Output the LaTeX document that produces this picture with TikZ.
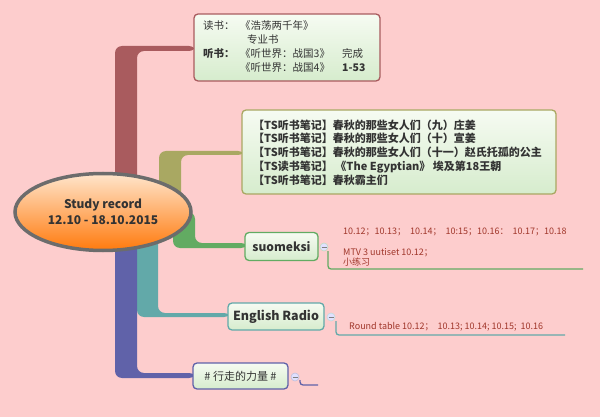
\documentclass[tikz,border=0pt]{standalone}
\usepackage{fontspec}
\setmainfont{Noto Sans CJK SC}
\usetikzlibrary{shapes.geometric}
\definecolor{bg}{HTML}{FDCDCD}
\definecolor{cR}{HTML}{A95B5E}
\definecolor{cO}{HTML}{A9A862}
\definecolor{cG}{HTML}{62AB62}
\definecolor{cT}{HTML}{62A9A9}
\definecolor{cB}{HTML}{6062A9}
\definecolor{lab}{HTML}{A0362A}
\definecolor{txt}{HTML}{333333}
\definecolor{boxtop}{HTML}{F6FBF2}
\definecolor{boxbot}{HTML}{D6ECCD}
\tikzset{
  branch/.style={fill=#1, rounded corners=7pt},
  topicbox/.style={draw=#1, line width=1.3pt, rounded corners=4pt, top color=boxtop, bottom color=boxbot, inner sep=0pt},
  leafline/.style={draw=#1, line width=1.3pt, rounded corners=3pt},
  collapse/.style={circle, draw=#1!40!white, fill=blue!12!white, line width=0.6pt, minimum size=8pt, inner sep=0pt},
  btxt/.style={anchor=base west, inner sep=0pt, text=txt, font=\fontsize{10.5}{12}\selectfont},
  ltxt/.style={anchor=base west, inner sep=0pt, text=lab, font=\fontsize{9}{10}\selectfont},
  ttl/.style={inner sep=0pt, text=txt, font=\bfseries\fontsize{12}{14}\selectfont}
}
\begin{document}
\begin{tikzpicture}[x=1pt,y=-1pt]
\useasboundingbox (0,0) rectangle (600,417);
\fill[bg] (0,0) rectangle (600,417);
% branches
\fill[branch=cR] (115,210) -- (115,46) -- (196,46) -- (196,51) -- (137,51) -- (137,210) -- cycle;
\fill[branch=cO] (159,210) -- (159,151) -- (245,151) -- (245,155) -- (181,155) -- (181,210) -- cycle;
\fill[branch=cG] (173,212) -- (173,248) -- (248,248) -- (248,243) -- (195,243) -- (195,212) -- cycle;
\fill[branch=cT] (137,214) -- (137,317) -- (231,317) -- (231,313) -- (158,313) -- (158,214) -- cycle;
\fill[branch=cB] (115,214) -- (115,378) -- (196,378) -- (196,373) -- (137,373) -- (137,214) -- cycle;
% central
\node[ellipse, minimum width=176pt, minimum height=77pt, draw=gray!85!black, line width=3.5pt,
  top color=orange!20!white, bottom color=orange!90!red!95!white, inner sep=0pt] (center) at (103,212) {};
\node[ttl] (t1) at (103,205) {Study record};
\node[ttl] (t2) at (103,220) {12.10 - 18.10.2015};
% box 1
\path[topicbox=cR] (194,14) rectangle (380,81);
\node[btxt] (a1) at (203,30) {读书：};
\node[btxt] (a2) at (240,30) {《浩荡两千年》};
\node[btxt] (a3) at (247,44) {专业书};
\node[btxt, font=\bfseries\fontsize{10.5}{12}\selectfont] (a4) at (203,58) {听书：};
\node[btxt] (a5) at (240,58) {《听世界：战国3》};
\node[btxt] (a6) at (342,58) {完成};
\node[btxt] (a7) at (240,72) {《听世界：战国4》};
\node[btxt, font=\bfseries\fontsize{10.5}{12}\selectfont] (a8) at (342,72) {1-53};
% box 2
\path[topicbox=cO] (242,110) rectangle (556,194);
\begin{scope}[every node/.style={btxt, font=\bfseries\fontsize{11}{12}\selectfont}]
\node (b1) at (253,130) {【TS听书笔记】春秋的那些女人们（九）庄姜};
\node (b2) at (253,143) {【TS听书笔记】春秋的那些女人们（十）宣姜};
\node (b3) at (253,157) {【TS听书笔记】春秋的那些女人们（十一）赵氏托孤的公主};
\node (b4) at (253,171) {【TS读书笔记】 《The Egyptian》 埃及第18王朝};
\node (b5) at (253,185) {【TS听书笔记】春秋霸主们};
\end{scope}
% suomeksi
\node[topicbox=cG, minimum width=73pt, minimum height=28pt, ttl] (suo) at (281.5,246.5) {suomeksi};
\node[collapse=cG] (cs) at (324,247) {};
\draw[gray, line width=0.6pt] (321.5,247) -- (326.5,247);
\coordinate (s1) at (328,251);
\coordinate (s2) at (583,269);
\draw[leafline=cG] (s1) |- (s2);
\node[ltxt] (l1) at (343,234) {10.12；10.13；\ \ 10.14；\ \ 10:15；10.16：\ \ 10.17；10.18};
\node[ltxt] (l2) at (343,255) {MTV 3 uutiset 10.12；};
\node[ltxt] (l3) at (343,265) {小练习};
% English radio
\node[topicbox=cT, minimum width=96pt, minimum height=27pt, ttl, font=\bfseries\fontsize{12.5}{14}\selectfont] (eng) at (276,316.5) {English Radio};
\node[collapse=cT] (ce) at (331,317) {};
\draw[gray, line width=0.6pt] (328.5,317) -- (333.5,317);
\coordinate (e1) at (336,321);
\coordinate (e2) at (565,335);
\draw[leafline=cT] (e1) |- (e2);
\node[ltxt] (l4) at (349,329) {Round table 10.12；\ \ 10.13; 10.14; 10.15;\ \ 10.16};
% walking
\node[topicbox=cB, minimum width=95pt, minimum height=26pt, ttl, font=\fontsize{11}{13}\selectfont] (walk) at (240.5,376) {\# 行走的力量 \#};
\node[collapse=cB] (cw) at (295,377) {};
\draw[gray, line width=0.6pt] (292.5,377) -- (297.5,377);
\coordinate (w1) at (300,380);
\coordinate (w2) at (318,385);
\draw[leafline=cB] (w1) |- (w2);
\end{tikzpicture}
\end{document}
